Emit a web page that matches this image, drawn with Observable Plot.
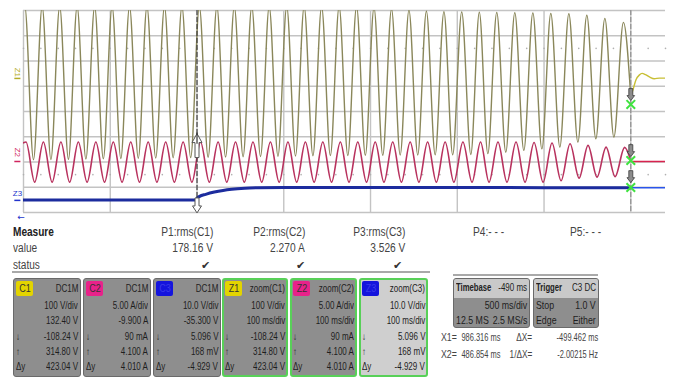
<!DOCTYPE html>
<html><head><meta charset="utf-8">
<script src="https://cdn.jsdelivr.net/npm/d3@7"></script>
<script src="https://cdn.jsdelivr.net/npm/@observablehq/plot@0.6"></script>
<style>
body{margin:0;background:#fff;width:675px;height:379px;overflow:hidden;position:relative;font-family:"Liberation Sans",Arial,sans-serif;}
#chart{position:absolute;left:0;top:0;}
#panel{position:absolute;left:0;top:0;width:675px;height:379px;}
.t{position:absolute;white-space:nowrap;color:#2b2b2b;}
.b{position:absolute;box-sizing:border-box;}
</style></head>
<body>
<div id="chart"></div>
<div id="panel"></div>
<script>
// ---------- DATA (time in ms from left edge of zoom window) ----------
const gridTimes = [0, 100, 200, 300, 400, 500, 600, 700];
const gridDivs = [-4, -3, -2, -1, 0, 1, 2, 3, 4];
const minorRows = [2.5, -2.5];
const cursorTimes = [200, 700];

// Z1 : zoom(C1), 100 V/div
const z1PeakT = [1.5,21.5,41.7,61.8,82.0,102.1,122.2,142.3,162.5,182.6,202.7,222.9,243.0,263.1,283.2,303.4,323.5,343.6,363.8,383.9,404.0,424.2,444.3,464.4,484.6,505.1,525.4,545.5,566.3,587.1,607.8,628.6,649.3,670.1,691.5];
const z1PeakV = [285,285,285,285,285,285,285,285,285,285,285,285,285,285,285,285,285,285,285,285,280,275,270,266,264,263,262,261,260,259,257,256,250,238,222];
const z1TroughT = [11.5,31.6,51.8,71.9,92.0,112.2,132.3,152.4,172.5,192.7,212.8,232.9,253.1,273.2,293.3,313.5,333.6,353.7,373.8,394.0,414.1,434.2,454.4,474.5,494.7,515.6,535.2,555.9,576.7,597.5,618.2,639.0,659.7,680.5];
const z1TroughV = [-322,-321,-320,-319,-318,-317,-316,-315,-314,-313,-312,-311,-310,-309,-308,-307,-306,-305,-305,-304,-304,-303,-303,-302,-302,-301,-298,-292,-285,-279,-272,-252,-239,-232];
const z1Start = [0, 278], z1End = [700, -75];
const z1AfterT = [700, 702.5, 706, 710, 713, 717, 722, 727, 733, 740];
const z1AfterV = [-70, -45, -5, 14, 20, 15, 5, -1, 1, 1];

// Z2 : zoom(C2), 5.00 A/div
const z2Lag = 1.4;
const z2PeakA = [3.85,3.85,3.85,3.85,3.85,3.85,3.85,3.85,3.85,3.85,3.85,3.85,3.85,3.85,3.85,3.85,3.85,3.85,3.85,3.85,3.85,3.85,3.85,3.85,3.85,3.85,3.85,3.85,3.85,3.75,3.65,3.5,3.2,2.85,2.8];
const z2TroughA = [-4.1,-4.1,-4.1,-4.1,-4.1,-4.1,-4.1,-4.1,-4.1,-4.1,-4.1,-4.1,-4.1,-4.1,-4.1,-4.1,-4.1,-4.1,-4.1,-4.1,-4.1,-4.1,-4.1,-4.1,-4.1,-4.1,-4.1,-4.1,-4.1,-4.1,-3.8,-3.3,-3.1,-3.0];
const z2Start = [0, 3.7], z2End = [700, 0.1];
const z2AfterT = [700, 740], z2AfterA = [0, 0];

// Z3 : zoom(C3), 10.0 V/div
const z3T = [0, 199.5, 200.5, 203, 210, 220, 230, 240, 255, 270, 300, 400, 500, 600, 700];
const z3V = [0.17, 0.17, 1.0, 1.6, 2.4, 3.3, 3.95, 4.4, 4.8, 5.0, 5.15, 5.1, 5.1, 5.05, 5.05];
const z3AfterT = [700, 740], z3AfterV = [5.0, 5.0];

// channel scale (units/div) and zero position (div from screen centre)
const Z1 = {perDiv: 100, zero: 1.31};
const Z2 = {perDiv: 5, zero: -1.98};
const Z3 = {perDiv: 10, zero: -3.52};

// cursor marker positions (div)
const x1Arrows = [{y: -1.35, dir: -1, big: true}, {y: -3.72, dir: 1, big: false}];
const x2ArrowDivs = [0.67, -1.55, -2.58];
const x2CrossDivs = [0.28, -1.94, -3.01];

// ---------- build series ----------
function wave(start, pT, pV, tT, tV, end, lag) {
  const pts = [{t: start[0], v: start[1]}];
  for (let i = 0; i < pT.length; i++) {
    pts.push({t: pT[i] + lag, v: pV[i]});
    if (i < tT.length) pts.push({t: tT[i] + lag, v: tV[i]});
  }
  pts.push({t: end[0], v: end[1]});
  return pts;
}
const zip = (T, V) => T.map((t, i) => ({t, v: V[i]}));
const z1 = wave(z1Start, z1PeakT, z1PeakV, z1TroughT, z1TroughV, z1End, 0);
const z2 = wave(z2Start, z1PeakT, z2PeakA, z1TroughT, z2TroughA, z2End, z2Lag);
const z3 = zip(z3T, z3V);
const z1a = zip(z1AfterT, z1AfterV), z2a = zip(z2AfterT, z2AfterA), z3a = zip(z3AfterT, z3AfterV);
const Y = ch => d => d.v / ch.perDiv + ch.zero;
const minorDots = [];
for (const r of minorRows) for (const t of d3.range(0, 741, 20)) minorDots.push({t, r});

const markers = [
  {ch: Z1, label: "Z1", color: "#b4ab26", rot: 90, ly: 1.55},
  {ch: Z2, label: "Z2", color: "#d0245e", rot: 90, ly: -1.62},
  {ch: Z3, label: "Z3", color: "#2233cc", rot: 0, ly: -3.25}
];

// arrow symbols (pixel units, r = 1)
function arrowSymbol(halfHead, headLen, halfShaft, total, dir) {
  return {draw(ctx, size) {
    const u = Math.sqrt(size / Math.PI);
    const top = -total / 2 * u * dir, bot = total / 2 * u * dir, neck = top + headLen * u * dir;
    ctx.moveTo(0, top);
    ctx.lineTo(halfHead * u, neck);
    ctx.lineTo(halfShaft * u, neck);
    ctx.lineTo(halfShaft * u, bot);
    ctx.lineTo(-halfShaft * u, bot);
    ctx.lineTo(-halfShaft * u, neck);
    ctx.lineTo(-halfHead * u, neck);
    ctx.closePath();
  }};
}
const bigUp = arrowSymbol(5, 9, 2, 24, 1);
const smallDown = arrowSymbol(4.5, 7, 2, 15, -1);
const grayDown = arrowSymbol(3.8, 5, 2, 12, -1);

const chart = Plot.plot({
  width: 675, height: 222,
  marginLeft: 23, marginRight: 10, marginTop: 10, marginBottom: 10,
  x: {domain: [0, 740], axis: null},
  y: {domain: [-4, 4], axis: null},
  style: {background: "white", overflow: "visible"},
  marks: [
    Plot.ruleY(gridDivs, {stroke: "#c3c3c3", strokeWidth: 1.4}),
    Plot.ruleX(gridTimes, {stroke: "#c3c3c3", strokeWidth: 1.4}),
    Plot.dot(minorDots, {x: "t", y: "r", r: 0.8, fill: "#b0b0b0"}),
    Plot.line(z1, {x: "t", y: Y(Z1), curve: "monotone-x", stroke: "#8a875a", strokeWidth: 1.4, clip: true}),
    Plot.line(z1a, {x: "t", y: Y(Z1), curve: "monotone-x", stroke: "#c8bf35", strokeWidth: 1.4, clip: true}),
    Plot.line(z2, {x: "t", y: Y(Z2), curve: "monotone-x", stroke: "#b8325e", strokeWidth: 1.6, clip: true}),
    Plot.line(z2a, {x: "t", y: Y(Z2), stroke: "#d8234e", strokeWidth: 1.3, clip: true}),
    Plot.line(z3, {x: "t", y: Y(Z3), curve: "monotone-x", stroke: "#1c2c9e", strokeWidth: 3, clip: true}),
    Plot.line(z3a, {x: "t", y: Y(Z3), stroke: "#2a55ea", strokeWidth: 1.3, clip: true}),
    Plot.ruleX([cursorTimes[0]], {stroke: "#3a3a3a", strokeWidth: 1.1, strokeDasharray: "5,2"}),
    Plot.ruleX([cursorTimes[1]], {stroke: "#8a8a8a", strokeWidth: 1.1, strokeDasharray: "5,2"}),
    // X1 cursor arrows
    Plot.dot([x1Arrows[0]], {x: cursorTimes[0], y: "y", r: 1, symbol: bigUp, fill: "white", stroke: "#555", strokeWidth: 1}),
    Plot.dot([x1Arrows[1]], {x: cursorTimes[0], y: "y", r: 1, symbol: smallDown, fill: "white", stroke: "#555", strokeWidth: 1}),
    Plot.ruleX([cursorTimes[0]], {y1: -1.3, y2: -0.85, stroke: "#333", strokeWidth: 1.2}),
    // X2 cursor markers
    Plot.dot(x2ArrowDivs, {x: cursorTimes[1], y: d => d, r: 1, symbol: grayDown, fill: "#8c8c8c", stroke: "#3a3a3a", strokeWidth: 0.8}),
    Plot.dot(x2CrossDivs, {x: cursorTimes[1], y: d => d, symbol: "times", r: 4, stroke: "#3fe33f", strokeWidth: 2}),
    // channel labels in left margin
    Plot.text(markers, {x: -7, y: "ly", text: "label", rotate: d => d.rot, fill: "color", fontSize: 8, fontFamily: "Liberation Sans"}),
    Plot.ruleY(markers, {y: d => d.ch.zero, x1: -10, x2: -3, stroke: "color", strokeWidth: 1.5}),
    Plot.text([0], {x: -3, y: -4.2, text: () => "←", fill: "#2233cc", fontSize: 9, fontFamily: "DejaVu Sans"})
  ]
});
document.getElementById("chart").appendChild(chart);

// ---------- readout panel ----------
const measureLabels = ["Measure", "value", "status"];
const measureHeads = ["P1:rms(C1)", "P2:rms(C2)", "P3:rms(C3)"];
const measureVals = ["178.16 V", "2.270 A", "3.526 V"];
const emptyHeads = ["P4:- - -", "P5:- - -"];
const chanBoxes = [
  {id: "C1", head: "DC1M", badge: "#e3d400", tc: "#333", rows: ["100 V/div", "132.40 V", "-108.24 V", "314.80 V", "423.04 V"]},
  {id: "C2", head: "DC1M", badge: "#e8228a", tc: "#333", rows: ["5.00 A/div", "-9.900 A", "90 mA", "4.100 A", "4.010 A"]},
  {id: "C3", head: "DC1M", badge: "#1414dd", tc: "#3a3ae8", rows: ["10.0 V/div", "-35.300 V", "5.096 V", "168 mV", "-4.929 V"]},
  {id: "Z1", head: "zoom(C1)", badge: "#e3d400", tc: "#333", zoom: true, rows: ["100 V/div", "100 ms/div", "-108.24 V", "314.80 V", "423.04 V"]},
  {id: "Z2", head: "zoom(C2)", badge: "#e8228a", tc: "#333", zoom: true, rows: ["5.00 A/div", "100 ms/div", "90 mA", "4.100 A", "4.010 A"]},
  {id: "Z3", head: "zoom(C3)", badge: "#1414dd", tc: "#3a3ae8", zoom: true, light: true, rows: ["10.0 V/div", "100 ms/div", "5.096 V", "168 mV", "-4.929 V"]}
];
const rowSymbols = ["", "", "↓", "↑", "Δy"];
const timebase = {head: ["Timebase", "-490 ms"], rows: [["", "500 ms/div"], ["12.5 MS", "2.5 MS/s"]]};
const trigger = {head: ["Trigger", "C3 DC"], rows: [["Stop", "1.0 V"], ["Edge", "Either"]]};
const cursorRead = [["X1=", "986.316 ms", "ΔX=", "-499.462 ms"], ["X2=", "486.854 ms", "1/ΔX=", "-2.00215 Hz"]];

const panel = document.getElementById("panel");
function T(s, x, y, o = {}) {
  const el = document.createElement("div");
  el.className = "t";
  el.textContent = s;
  const size = o.size || 10, sx = o.sx ?? 0.8;
  el.style.fontSize = size + "px";
  el.style.lineHeight = size + "px";
  el.style.top = (y - size * 0.55) + "px";
  if (o.align === "right") { el.style.right = (675 - x) + "px"; el.style.transformOrigin = "right center"; el.style.transform = `scaleX(${sx})`; }
  else if (o.align === "center") { el.style.left = x + "px"; el.style.transform = `translateX(-50%) scaleX(${sx})`; }
  else { el.style.left = x + "px"; el.style.transformOrigin = "left center"; el.style.transform = `scaleX(${sx})`; }
  if (o.bold) el.style.fontWeight = "bold";
  el.style.color = o.color || "#2b2b2b";
  panel.appendChild(el);
}
function B(x, y, w, h, css) {
  const el = document.createElement("div");
  el.className = "b";
  Object.assign(el.style, {left: x + "px", top: y + "px", width: w + "px", height: h + "px"}, css);
  panel.appendChild(el);
  return el;
}
// measure table
measureLabels.forEach((s, i) => T(s, 13, 233 + [0, 16, 33][i], {size: 12, sx: 0.84, bold: i === 0, color: i === 0 ? "#222" : "#444"}));
const colRight = [213, 305, 405], checkX = [205, 300, 397];
measureHeads.forEach((s, i) => T(s, colRight[i], 233, {align: "right", size: 12, sx: 0.85, color: "#444"}));
measureVals.forEach((s, i) => T(s, colRight[i], 249, {align: "right", size: 12, sx: 0.85, color: "#444"}));
checkX.forEach(x => T("✔", x, 266, {align: "center", size: 11, sx: 1, color: "#333"}));
[473, 570].forEach((x, i) => T(emptyHeads[i], x, 233, {size: 12, sx: 0.85, color: "#444"}));
B(12, 271, 418, 2, {background: "#a9a9a9"});
B(453, 274, 145, 2, {background: "#a9a9a9"});

// channel / zoom boxes
const boxX = [13, 83, 153, 222, 290, 359], boxW = [68, 68, 68, 66, 67, 69];
const rowY = [306, 321, 337, 352, 367];
chanBoxes.forEach((c, i) => {
  const x = boxX[i], w = boxW[i];
  B(x, 278, w, 99, {background: c.light ? "#cfcfcf" : "#8e8e8e", border: c.zoom ? "2px solid #58d058" : "1px solid #6a6a6a", borderRadius: "3px"});
  B(x + 3, 281, 17, 15, {background: c.badge, borderRadius: "2px"});
  T(c.id, x + 11.5, 289, {align: "center", size: 10, sx: 0.9, color: c.tc});
  T(c.head, x + w - 3, 289, {align: "right", size: 10, sx: 0.8, color: "#222"});
  c.rows.forEach((r, j) => {
    T(r, x + w - 3, rowY[j], {align: "right", size: 10, sx: 0.8, color: "#1e1e1e"});
    if (rowSymbols[j]) T(rowSymbols[j], x + 3, rowY[j], {size: 10, sx: 0.8, color: "#1e1e1e"});
  });
});
// timebase and trigger boxes
[[timebase, 453, 77], [trigger, 533, 66]].forEach(([bx, x, w]) => {
  B(x, 278, w, 50, {background: "#8e8e8e", border: "1px solid #6a6a6a", borderRadius: "3px"});
  B(x + 1, 279, w - 2, 19, {background: "#c9c9c9", borderRadius: "2px 2px 0 0"});
  T(bx.head[0], x + 3, 288, {size: 11, sx: 0.7, bold: true, color: "#222"});
  T(bx.head[1], x + w - 3, 288, {align: "right", size: 10, sx: 0.8, color: "#222"});
  bx.rows.forEach((r, j) => {
    const y = [306, 321][j];
    if (r[0]) T(r[0], x + 3, y, {size: 11, sx: 0.8, color: "#1e1e1e"});
    T(r[1], x + w - 3, y, {align: "right", size: 11, sx: 0.8, color: "#1e1e1e"});
  });
});
// cursor readouts
cursorRead.forEach((r, j) => {
  const y = [338, 355][j];
  T(r[0], 441, y, {size: 11, sx: 0.8, color: "#444"});
  T(r[1], 500, y, {align: "right", size: 11, sx: 0.68, color: "#444"});
  T(r[2], 532, y, {align: "right", size: 11, sx: 0.75, color: "#444"});
  T(r[3], 598, y, {align: "right", size: 11, sx: 0.68, color: "#444"});
});
</script>
</body></html>
